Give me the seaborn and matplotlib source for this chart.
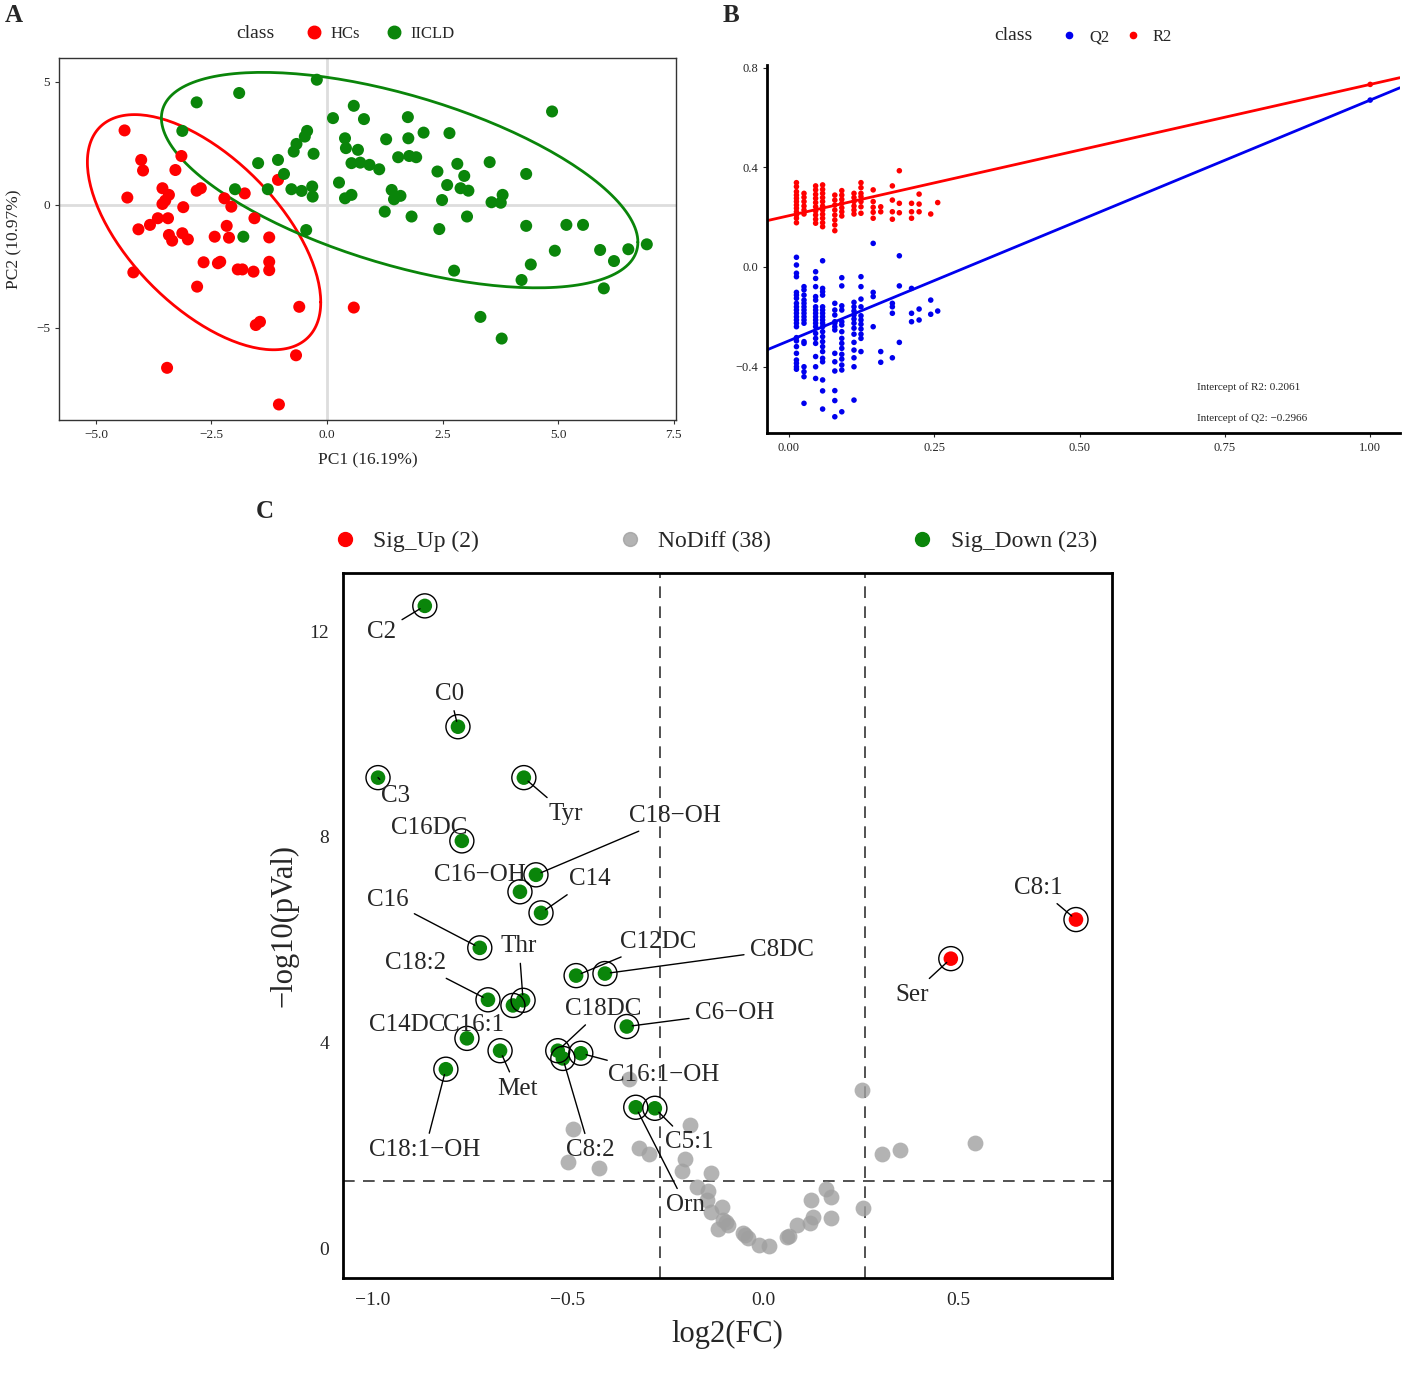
import numpy as np
import pandas as pd
import matplotlib.pyplot as plt
from matplotlib.lines import Line2D
import seaborn as sns

sns.set_style('white')
plt.rcParams['font.family'] = ['Liberation Serif', 'DejaVu Serif']
plt.rcParams['axes.unicode_minus'] = True

RED = '#ff0000'
GREEN = '#0a850a'
BLUE = '#0000ee'

# ---------------- A: PCA scores ----------------
hcs_pc1 = [-4.38, -4.02, -3.98, -3.15, -3.28, -4.32, -3.56, -3.42, -3.50, -3.56,
           -3.44, -3.66, -3.83, -4.08, -3.11, -2.82, -2.73, -3.42, -3.35, -3.13,
           -3.01, -2.22, -2.07, -1.78, -1.06, -1.57, -2.17, -2.43, -2.12, -1.25,
           -2.67, -2.36, -2.31, -1.93, -1.83, -1.59, -1.25, -1.25, -4.19, -2.81,
           -0.60, 0.58, -1.54, -1.45, -0.67, -3.46, -1.04]
hcs_pc2 = [3.03, 1.83, 1.40, 1.99, 1.42, 0.30, 0.68, 0.41, 0.18, 0.04,
           -0.54, -0.54, -0.81, -0.99, -0.09, 0.58, 0.68, -1.22, -1.45, -1.15,
           -1.40, 0.27, -0.07, 0.47, 1.02, -0.54, -0.85, -1.29, -1.33, -1.32,
           -2.33, -2.37, -2.31, -2.62, -2.62, -2.71, -2.31, -2.65, -2.74, -3.32,
           -4.14, -4.17, -4.88, -4.75, -6.11, -6.62, -8.11]
icld_pc1 = [-0.22, -1.90, -2.82, -3.13, 0.58, 0.13, 0.80, 1.75, 4.87, 0.39,
            1.28, 1.76, 2.09, 2.65, -0.43, -0.48, -0.66, -0.72, -0.29, 0.41,
            0.67, -1.06, -1.49, 0.53, 0.72, 0.92, 1.13, 1.54, 1.78, 1.93,
            2.82, 3.52, 2.39, 2.97, 4.31, -0.93, 0.26, 2.60, 2.89, 3.06,
            -1.99, -1.28, -0.77, -0.55, -0.32, -0.31, 0.39, 0.53, 1.40, 1.45,
            1.59, 2.49, 3.56, 3.76, 3.80, 1.25, 1.83, 3.03, -0.45, -1.81,
            2.43, 4.31, 5.18, 5.54, 4.93, 5.91, 6.52, 6.92, 6.21, 4.41,
            2.75, 4.21, 5.99, 3.32, 3.78]
icld_pc2 = [5.09, 4.55, 4.17, 3.01, 4.03, 3.53, 3.49, 3.57, 3.80, 2.71,
            2.67, 2.71, 2.94, 2.92, 3.01, 2.78, 2.48, 2.17, 2.08, 2.31,
            2.24, 1.83, 1.70, 1.70, 1.72, 1.63, 1.45, 1.94, 1.99, 1.94,
            1.67, 1.74, 1.36, 1.18, 1.26, 1.26, 0.91, 0.81, 0.68, 0.58,
            0.64, 0.64, 0.64, 0.57, 0.75, 0.34, 0.27, 0.41, 0.61, 0.23,
            0.37, 0.20, 0.11, 0.09, 0.41, -0.27, -0.47, -0.47, -1.02, -1.29,
            -0.98, -0.85, -0.81, -0.81, -1.86, -1.83, -1.80, -1.60, -2.28, -2.42,
            -2.67, -3.05, -3.39, -4.55, -5.43]

# ---------------- B: permutation test ----------------
perm_sim = [0.013, 0.026, 0.046, 0.058, 0.079, 0.091, 0.112, 0.124,
            0.145, 0.158, 0.178, 0.190, 0.211, 0.224, 0.244, 0.256]
r2_perm = [
    [0.339, 0.323, 0.303, 0.289, 0.276, 0.263, 0.249, 0.236, 0.222, 0.209, 0.196, 0.178],
    [0.296, 0.280, 0.263, 0.245, 0.229, 0.213],
    [0.326, 0.310, 0.292, 0.276, 0.259, 0.242, 0.225, 0.209, 0.192, 0.176],
    [0.330, 0.312, 0.296, 0.279, 0.263, 0.245, 0.229, 0.212, 0.196, 0.178, 0.162],
    [0.289, 0.269, 0.249, 0.229, 0.209, 0.189, 0.169, 0.146],
    [0.307, 0.289, 0.272, 0.256, 0.238, 0.222, 0.205],
    [0.296, 0.279, 0.263, 0.245, 0.229, 0.213],
    [0.339, 0.319, 0.296, 0.283, 0.263, 0.242, 0.216],
    [0.310, 0.263, 0.240, 0.220, 0.196],
    [0.242, 0.222],
    [0.326, 0.269, 0.222, 0.192],
    [0.387, 0.256, 0.218],
    [0.256, 0.222, 0.196],
    [0.293, 0.253, 0.222],
    [0.213],
    [0.259],
]
q2_perm = [
    [0.039, 0.008, -0.025, -0.039, -0.102, -0.113, -0.126, -0.146, -0.160, -0.173, -0.186, -0.200,
     -0.213, -0.226, -0.240, -0.284, -0.297, -0.320, -0.347, -0.374, -0.387, -0.401, -0.411],
    [-0.079, -0.092, -0.113, -0.133, -0.146, -0.160, -0.173, -0.186, -0.200, -0.213, -0.226,
     -0.300, -0.307, -0.401, -0.421, -0.441, -0.548],
    [-0.019, -0.046, -0.079, -0.119, -0.133, -0.160, -0.173, -0.186, -0.200, -0.213, -0.226,
     -0.240, -0.267, -0.287, -0.307, -0.360, -0.401, -0.448],
    [0.025, -0.086, -0.099, -0.113, -0.160, -0.173, -0.186, -0.200, -0.213, -0.226, -0.240,
     -0.260, -0.280, -0.300, -0.320, -0.340, -0.367, -0.381, -0.454, -0.498, -0.571],
    [-0.146, -0.173, -0.193, -0.220, -0.226, -0.240, -0.253, -0.347, -0.381, -0.418, -0.497,
     -0.537, -0.602],
    [-0.043, -0.076, -0.156, -0.173, -0.220, -0.233, -0.260, -0.287, -0.307, -0.327, -0.351,
     -0.370, -0.394, -0.414, -0.582],
    [-0.142, -0.160, -0.177, -0.193, -0.209, -0.226, -0.246, -0.270, -0.303, -0.334, -0.365,
     -0.401, -0.535],
    [-0.039, -0.079, -0.129, -0.160, -0.196, -0.213, -0.230, -0.249, -0.270, -0.287, -0.340],
    [0.095, -0.102, -0.119, -0.240],
    [-0.340, -0.383],
    [-0.146, -0.160, -0.186, -0.365],
    [0.045, -0.076, -0.303],
    [-0.086, -0.186, -0.220],
    [-0.169, -0.213],
    [-0.133, -0.190],
    [-0.177],
]
r2_orig = 0.734
q2_orig = 0.671
r2_intercept = 0.2061
q2_intercept = -0.2966

# ---------------- C: volcano ----------------
down_names = ['C2', 'C0', 'C3', 'Tyr', 'C16DC', 'C18−OH', 'C16−OH', 'C14', 'C16',
              'Thr', 'C18:2', 'C16:1', 'C14DC', 'Met', 'C18:1−OH', 'C12DC', 'C8DC',
              'C18DC', 'C8:2', 'C16:1−OH', 'C6−OH', 'Orn', 'C5:1']
down_fc = [-0.867, -0.782, -0.987, -0.613, -0.772, -0.582, -0.623, -0.569, -0.726,
           -0.615, -0.705, -0.641, -0.759, -0.674, -0.813, -0.479, -0.405,
           -0.526, -0.513, -0.467, -0.349, -0.326, -0.277]
down_p = [12.49, 10.14, 9.15, 9.15, 7.92, 7.26, 6.93, 6.52, 5.84,
          4.82, 4.83, 4.72, 4.08, 3.84, 3.48, 5.30, 5.34,
          3.84, 3.69, 3.79, 4.31, 2.74, 2.72]
up_names = ['Ser', 'C8:1']
up_fc = [0.482, 0.803]
up_p = [5.63, 6.39]
nodiff_fc = [-0.344, 0.254, -0.187, -0.487, -0.318, -0.292, -0.500, -0.421, -0.200, -0.208,
             -0.133, -0.169, -0.141, -0.144, -0.105, -0.133, -0.103, -0.090, -0.115, -0.051,
             -0.038, -0.010, 0.015, 0.062, 0.067, 0.087, 0.121, 0.128, 0.123, 0.162,
             0.174, 0.174, 0.256, 0.305, 0.351, 0.544, -0.095, -0.046]
nodiff_p = [3.28, 3.07, 2.39, 2.31, 1.94, 1.83, 1.67, 1.55, 1.73, 1.50,
            1.46, 1.18, 1.11, 0.93, 0.80, 0.70, 0.54, 0.45, 0.37, 0.29,
            0.19, 0.06, 0.04, 0.21, 0.23, 0.45, 0.49, 0.60, 0.93, 1.15,
            0.99, 0.58, 0.78, 1.83, 1.90, 2.04, 0.50, 0.25]
fc_cut = 0.263
p_cut = 1.301

# text placement of the repelled labels, offset from the point in pixels
label_offsets = {
    'C2': (-43, -26), 'C0': (-8, 33), 'C3': (18, -18), 'Tyr': (42, -36),
    'C16DC': (-33, 13), 'C18−OH': (139, 59), 'C16−OH': (-40, 17), 'C14': (49, 34),
    'C16': (-92, 48), 'Thr': (-4, 54), 'C18:2': (-72, 37), 'C16:1': (-39, -20),
    'C14DC': (-60, 13), 'Met': (17, -38), 'C18:1−OH': (-21, -81), 'C12DC': (82, 34),
    'C8DC': (177, 24), 'C18DC': (45, 42), 'C8:2': (27, -92), 'C16:1−OH': (83, -22),
    'C6−OH': (108, 14), 'Orn': (50, -98), 'C5:1': (34, -34), 'Ser': (-39, -36),
    'C8:1': (-38, 32),
}
no_segment = {'C16DC', 'C16−OH', 'C14DC', 'C16:1'}


def t_ellipse(x, y, level=0.95, nu=5, n_seg=200):
    # multivariate-t ellipse (robust centre and shape, as ggplot's stat_ellipse)
    X = np.column_stack([x, y])
    n, p = X.shape
    wt = np.ones(n)
    for _ in range(100):
        loc = (wt[:, None] * X).sum(0) / wt.sum()
        Xc = X - loc
        shape = (wt[:, None] * Xc).T @ Xc / n
        q = np.einsum('ij,jk,ik->i', Xc, np.linalg.inv(shape), Xc)
        wt = (nu + p) / (nu + q)
    d2 = n - 1
    f_q = d2 / 2 * ((1 - level) ** (-2 / d2) - 1)
    radius = np.sqrt(2 * f_q)
    t = np.linspace(0, 2 * np.pi, n_seg)
    circ = np.column_stack([np.cos(t), np.sin(t)])
    ell = loc + radius * circ @ np.linalg.cholesky(shape).T
    return ell[:, 0], ell[:, 1]


fig = plt.figure(figsize=(14.2, 13.77), dpi=100)

# ===== Panel A =====
axA = fig.add_axes([0.0415, 0.695, 0.4345, 0.263])
pca_df = pd.DataFrame({
    'PC1': hcs_pc1 + icld_pc1,
    'PC2': hcs_pc2 + icld_pc2,
    'class': ['HCs'] * len(hcs_pc1) + ['IICLD'] * len(icld_pc1),
})
pal_a = {'HCs': RED, 'IICLD': GREEN}
axA.axhline(0, color='#dddddd', lw=2, zorder=0)
axA.axvline(0, color='#dddddd', lw=2, zorder=0)
sns.scatterplot(data=pca_df, x='PC1', y='PC2', hue='class', palette=pal_a,
                s=75, linewidth=0, legend=False, ax=axA, zorder=3)
for cls, col in pal_a.items():
    sub = pca_df[pca_df['class'] == cls]
    ex, ey = t_ellipse(sub['PC1'].to_numpy(), sub['PC2'].to_numpy())
    axA.plot(ex, ey, color=col, lw=2, zorder=2)
axA.set_xlim(-5.8, 7.55)
axA.set_ylim(-8.74, 5.98)
axA.set_xticks([-5.0, -2.5, 0.0, 2.5, 5.0, 7.5])
axA.set_xticklabels(['−5.0', '−2.5', '0.0', '2.5', '5.0', '7.5'])
axA.set_yticks([5, 0, -5])
axA.set_xlabel('PC1 (16.19%)', fontsize=12.5, labelpad=8)
axA.set_ylabel('PC2 (10.97%)', fontsize=12.5, labelpad=10)
axA.tick_params(labelsize=9.5, length=3, width=0.8, color='#333333', direction='out',
                bottom=True, left=True)
for sp in axA.spines.values():
    sp.set_color('#333333')
    sp.set_linewidth(1.0)
hA = [Line2D([], [], ls='', marker='o', ms=9, color=c) for c in pal_a.values()]
axA.legend(hA, list(pal_a.keys()), ncol=2, loc='center left', frameon=False,
           bbox_to_anchor=(306 / 1420, 1 - 34 / 1377), bbox_transform=fig.transFigure,
           fontsize=12, handlelength=1.0, handletextpad=0.5, columnspacing=1.5,
           borderpad=0, borderaxespad=0)
fig.text(255 / 1420, 1 - 33 / 1377, 'class', fontsize=14, ha='center', va='center')

# ===== Panel B =====
axB = fig.add_axes([0.540, 0.6856, 0.4458, 0.2672])
rows = []
for sim, r2s, q2s in zip(perm_sim, r2_perm, q2_perm):
    rows += [(sim, v, 'R2') for v in r2s]
    rows += [(sim, v, 'Q2') for v in q2s]
rows += [(1.0, q2_orig, 'Q2'), (1.0, r2_orig, 'R2')]
perm_df = pd.DataFrame(rows, columns=['similarity', 'value', 'class'])
pal_b = {'Q2': BLUE, 'R2': RED}
sns.scatterplot(data=perm_df, x='similarity', y='value', hue='class', palette=pal_b,
                s=16, linewidth=0, legend=False, ax=axB, zorder=3)
axB.axline((0, r2_intercept), (1.0, r2_orig), color=RED, lw=2, zorder=2)
axB.axline((0, q2_intercept), (1.0, q2_orig), color=BLUE, lw=2, zorder=2)
axB.text(0.702, -0.482, f'Intercept of R2: {r2_intercept}', fontsize=8, ha='left', va='center')
axB.text(0.702, -0.607, f'Intercept of Q2: −{abs(q2_intercept)}', fontsize=8,
         ha='left', va='center')
axB.set_xlim(-0.038, 1.051)
axB.set_ylim(-0.667, 0.812)
axB.set_xticks([0.0, 0.25, 0.5, 0.75, 1.0])
axB.set_xticklabels(['0.00', '0.25', '0.50', '0.75', '1.00'])
axB.set_yticks([0.8, 0.4, 0.0, -0.4])
axB.set_yticklabels(['0.8', '0.4', '0.0', '−0.4'])
axB.set_xlabel('')
axB.set_ylabel('')
axB.tick_params(labelsize=9, length=3, width=0.8, direction='out', bottom=True, left=True)
sns.despine(ax=axB)
for sp in ('left', 'bottom'):
    axB.spines[sp].set_color('black')
    axB.spines[sp].set_linewidth(2)
hB = [Line2D([], [], ls='', marker='o', ms=4.5, color=c) for c in pal_b.values()]
axB.legend(hB, list(pal_b.keys()), ncol=2, loc='center left', frameon=False,
           bbox_to_anchor=(1061 / 1420, 1 - 37 / 1377), bbox_transform=fig.transFigure,
           fontsize=12, handlelength=1.0, handletextpad=0.7, columnspacing=0.9,
           borderpad=0, borderaxespad=0)
fig.text(1013 / 1420, 1 - 36 / 1377, 'class', fontsize=14, ha='center', va='center')

# ===== Panel C =====
axC = fig.add_axes([0.2415, 0.0719, 0.5415, 0.512])
vol_df = pd.DataFrame({
    'log2FC': nodiff_fc + down_fc + up_fc,
    'logP': nodiff_p + down_p + up_p,
    'group': ['NoDiff'] * len(nodiff_fc) + ['Sig_Down'] * len(down_fc) + ['Sig_Up'] * len(up_fc),
})
pal_c = {'Sig_Up': RED, 'NoDiff': '#a0a0a0', 'Sig_Down': GREEN}
sns.scatterplot(data=vol_df[vol_df['group'] == 'NoDiff'], x='log2FC', y='logP',
                color=pal_c['NoDiff'], alpha=0.8, s=130, linewidth=0, legend=False,
                ax=axC, zorder=2)
sig_df = vol_df[vol_df['group'] != 'NoDiff']
sns.scatterplot(data=sig_df, x='log2FC', y='logP', hue='group', palette=pal_c,
                s=110, linewidth=0, legend=False, ax=axC, zorder=3)
axC.scatter(sig_df['log2FC'], sig_df['logP'], s=300, facecolors='none',
            edgecolors='black', linewidths=1.0, zorder=4)
for x0 in (-fc_cut, fc_cut):
    axC.axvline(x0, color='#333333', lw=1.2, ls=(0, (7, 5)), zorder=1)
axC.axhline(p_cut, color='#333333', lw=1.2, ls=(0, (7, 5)), zorder=1)

for name, fx, py in zip(down_names + up_names, down_fc + up_fc, down_p + up_p):
    dx, dy = label_offsets[name]
    arrow = None
    if name not in no_segment:
        arrow = dict(arrowstyle='-', color='black', lw=1.0, shrinkA=2, shrinkB=4)
    axC.annotate(name, xy=(fx, py), xytext=(dx, dy), textcoords='offset pixels',
                 ha='center', va='center', fontsize=18, arrowprops=arrow, zorder=5)

axC.set_xlim(-1.077, 0.895)
axC.set_ylim(-0.58, 13.13)
axC.set_xticks([-1.0, -0.5, 0.0, 0.5])
axC.set_xticklabels(['−1.0', '−0.5', '0.0', '0.5'])
axC.set_yticks([0, 4, 8, 12])
axC.tick_params(labelsize=14, length=0, pad=10)
axC.set_xlabel('log2(FC)', fontsize=22, labelpad=8)
axC.set_ylabel('−log10(pVal)', fontsize=22, labelpad=8)
for sp in axC.spines.values():
    sp.set_color('black')
    sp.set_linewidth(2)
hC = [Line2D([], [], ls='', marker='o', ms=10, color=c,
             alpha=0.8 if k == 'NoDiff' else 1) for k, c in pal_c.items()]
axC.legend(hC, ['Sig_Up (2)', 'NoDiff (38)', 'Sig_Down (23)'], ncol=3, loc='center left',
           frameon=False, bbox_to_anchor=(333 / 1420, 1 - 541 / 1377),
           bbox_transform=fig.transFigure, fontsize=17, handlelength=1.0,
           handletextpad=0.7, columnspacing=5.9, borderpad=0, borderaxespad=0)

# panel letters
fig.text(14 / 1420, 1 - 15 / 1377, 'A', fontsize=18, fontweight='bold', ha='center', va='center')
fig.text(731 / 1420, 1 - 15 / 1377, 'B', fontsize=18, fontweight='bold', ha='center', va='center')
fig.text(265 / 1420, 1 - 511 / 1377, 'C', fontsize=18, fontweight='bold', ha='center', va='center')

fig.savefig('out.png', dpi=100)
